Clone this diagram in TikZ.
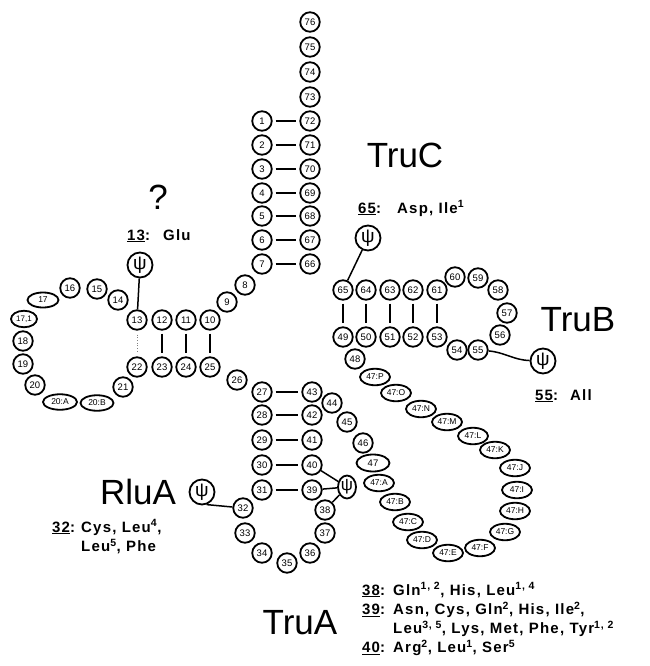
\documentclass[tikz,border=0pt]{standalone}
\usepackage{fontspec}
\setmainfont{Liberation Sans}
\newfontfamily\labfont[LetterSpace=8]{Liberation Sans}
\usetikzlibrary{shapes.geometric}
\begin{document}
\begin{tikzpicture}[x=1pt,y=-1pt,
  nt/.style={circle,draw,line width=1.8pt,minimum size=19.5pt,inner sep=0pt,font=\fontsize{9.5}{9.5}\selectfont},
  el/.style={ellipse,draw,line width=1.8pt,minimum width=30pt,minimum height=16.5pt,inner sep=0pt,font=\fontsize{8.5}{8.5}\selectfont},
  psi/.style={circle,draw,line width=1.8pt,minimum size=25pt,inner sep=0pt,font=\fontsize{19}{19}\selectfont},
  bp/.style={line width=1.6pt,shorten >=3pt,shorten <=3pt},
  conn/.style={line width=1.5pt},
  big/.style={inner sep=0pt,font=\fontsize{35}{35}\selectfont},
  lab/.style={inner sep=0pt,anchor=base west,font=\labfont\bfseries\fontsize{15}{19.3}\selectfont},
]
\useasboundingbox (0,0) rectangle (649,666);
% circular bases
\foreach \n/\x/\y in {76/310/22,75/310/47,74/310/72,73/310/97,72/310/121,71/310/145,70/310/169,69/310/193,68/310/216,67/310/240,66/310/264,
  1/262/121,2/262/145,3/262/169,4/262/193,5/262/216,6/262/240,7/262/264,
  8/245/285,9/227/302,10/210/320,11/186/320,12/162/320,13/137/320,14/118/300,15/97/289,16/70/288,
  18/23/341,19/23/364,20/35/385,21/123/387,22/137/367,23/162/367,24/186/367,25/210/367,26/237/380,
  27/262/392,28/262/415,29/262/440,30/262/465,31/262/490,32/243/508,33/245/533,34/262/553,35/287/563,
  36/310/553,37/325/533,38/325/510,39/312/490,40/312/465,41/312/440,42/312/415,43/312/392,
  44/332/403,45/347/422,46/363/443,48/355/359,
  49/343/337,50/366/337,51/390/337,52/413/337,53/437/337,54/457/350,55/478/350,56/500/335,57/507/313,
  58/498/290,59/478/278,60/455/277,61/437/290,62/413/290,63/390/290,64/366/290,65/343/290}
  \node[nt] (n\n) at (\x,\y) {\n};
% elliptical bases
\node[el,minimum width=31pt,minimum height=15pt] (n17) at (43,300) {17};
\node[el,minimum width=26pt,font=\fontsize{8}{8}\selectfont] (n17a) at (24,319) {17,1};
\node[el,minimum width=34pt,minimum height=15.5pt] (n20A) at (60,402) {20:A};
\node[el,minimum width=33pt,minimum height=15.5pt] (n20B) at (97,403) {20:B};
\node[el,minimum width=33pt,minimum height=17pt,font=\fontsize{9.5}{9.5}\selectfont] (n47) at (373,463) {47};
\foreach \n/\x/\y in {A/379/483,B/395/502,C/408/522,D/422/540,E/448/553,F/480/548,G/505/532,H/515/511,
  I/517/490,J/515/468,K/495/450,L/473/436,M/447/422,N/421/409,O/396/393,P/375/377}
  \node[el] (e\n) at (\x,\y) {47:\n};
% base pairs
\foreach \a/\b in {1/72,2/71,3/70,4/69,5/68,6/67,7/66,27/43,28/42,29/41,30/40,31/39,
  12/23,11/24,10/25,65/49,64/50,63/51,62/52,61/53}
  \draw[bp] (n\a) -- (n\b);
\draw[line width=0.7pt,dotted,gray,shorten >=4pt,shorten <=4pt] (n13) -- (n22);
% pseudouridines
\node[psi] (p13) at (140,265) {ψ};
\node[psi] (p65) at (368,238) {ψ};
\node[psi] (p55) at (543,361) {ψ};
\node[psi] (pR) at (202,492) {ψ};
\node[ellipse,draw,line width=1.8pt,minimum width=18pt,minimum height=23pt,inner sep=0pt,font=\fontsize{17}{17}\selectfont] (pA) at (347,487) {ψ};
\draw[conn] (p13) -- (n13);
\draw[conn] (p65) -- (n65);
\draw[conn] (n55) to[out=-5,in=178] (p55);
\draw[conn] (pR.-70) -- (n32);
\draw[conn] (n40) -- (pA);
\draw[conn] (n39) -- (pA);
\draw[conn] (n38) -- (pA);
% enzyme names
\node[big] (qm) at (158,197) {?};
\node[big] (truc) at (405,155) {TruC};
\node[big] (trub) at (578,320) {TruB};
\node[big] (rlua) at (138,492) {RluA};
\node[big] (trua) at (300,623) {TruA};
% specificity labels
\node[lab] (l13) at (127,240) {\makebox[36pt][l]{\underline{13}:}Glu};
\node[lab] (l65) at (358,213) {\makebox[39pt][l]{\underline{65}:}Asp, Ile\textsuperscript{1}};
\node[lab] (l55) at (535,400) {\makebox[35pt][l]{\underline{55}:}All};
\node[lab] (l32) at (52,532) {\begin{tabular}[t]{@{}p{29pt}@{}l@{}}\underline{32}: & Cys, Leu\textsuperscript{4},\\ & Leu\textsuperscript{5}, Phe\end{tabular}};
\node[lab] (l38) at (362,595) {\begin{tabular}[t]{@{}p{31pt}@{}l@{}}\underline{38}: & Gln\textsuperscript{1, 2}, His, Leu\textsuperscript{1, 4}\\
  \underline{39}: & Asn, Cys, Gln\textsuperscript{2}, His, Ile\textsuperscript{2},\\
  & Leu\textsuperscript{3, 5}, Lys, Met, Phe, Tyr\textsuperscript{1, 2}\\
  \underline{40}: & Arg\textsuperscript{2}, Leu\textsuperscript{1}, Ser\textsuperscript{5}\end{tabular}};
\end{tikzpicture}
\end{document}
